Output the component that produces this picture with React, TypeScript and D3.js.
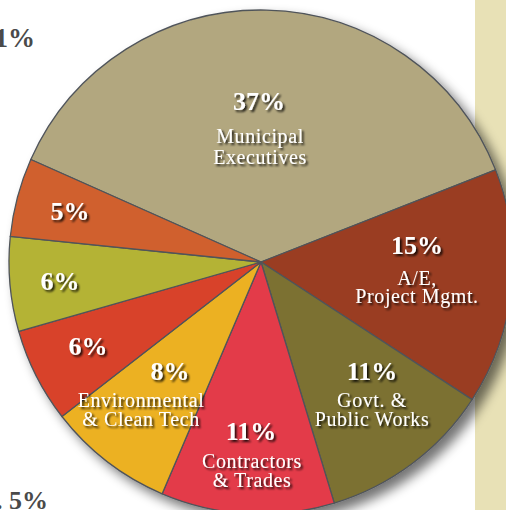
import React from "react";
import * as d3 from "d3";

const categories = [
  "Municipal Executives",
  "A/E, Project Mgmt.",
  "Govt. & Public Works",
  "Contractors & Trades",
  "Environmental & Clean Tech",
  "Other A",
  "Other B",
  "Other C",
];
const values = [37, 15, 11, 11, 8, 6, 6, 5];
const percentLabels = ["37%", "15%", "11%", "11%", "8%", "6%", "6%", "5%"];
const nameLines: string[][] = [
  ["Municipal", "Executives"],
  ["A/E,", "Project Mgmt."],
  ["Govt. &", "Public Works"],
  ["Contractors", "& Trades"],
  ["Environmental", "& Clean Tech"],
  [],
  [],
  [],
];
const colors = ["#B2A77F", "#9A3C21", "#7B7133", "#E33A48", "#ECB124", "#D8432A", "#B4B334", "#D0612D"];
// percent label anchor (center x, baseline y) relative to pie center
const pctPos: [number, number][] = [
  [-2, -152],
  [156, -8],
  [111, 118],
  [-10, 178],
  [-91, 118],
  [-173, 93],
  [-201, 28],
  [-191, -42],
];
// name block anchor (center x, first baseline y) relative to pie center
const namePos: [number, number][] = [
  [-1, -119],
  [156, 23],
  [111, 145],
  [-9, 206],
  [-120, 145],
  [0, 0],
  [0, 0],
  [0, 0],
];
const lineGaps = [21, 18, 19, 19, 19, 0, 0, 0];

export default function App() {
  const W = 506, H = 510;
  const cx = 261, cy = 262, r = 252;
  const pie = d3.pie<number>().sort(null).startAngle(-66 * Math.PI / 180).endAngle((360 - 66) * Math.PI / 180);
  const arcs = pie(values);
  const arc = d3.arc<d3.PieArcDatum<number>>().innerRadius(0).outerRadius(r);
  const font = "'Liberation Serif', 'Times New Roman', serif";
  return (
    <svg width={W} height={H} style={{ position: "absolute", left: 0, top: 0 }}>
      <defs>
        <filter id="pieShadow" x="-20%" y="-20%" width="140%" height="140%">
          <feGaussianBlur in="SourceAlpha" stdDeviation="6" />
          <feOffset dx="7" dy="7" result="b" />
          <feComponentTransfer>
            <feFuncA type="linear" slope="0.55" />
          </feComponentTransfer>
          <feMerge>
            <feMergeNode />
            <feMergeNode in="SourceGraphic" />
          </feMerge>
        </filter>
        <filter id="txtShadow" x="-20%" y="-40%" width="140%" height="180%">
          <feGaussianBlur in="SourceAlpha" stdDeviation="1" />
          <feOffset dx="1.8" dy="1.8" />
          <feComponentTransfer>
            <feFuncA type="linear" slope="0.85" />
          </feComponentTransfer>
          <feMerge>
            <feMergeNode />
            <feMergeNode in="SourceGraphic" />
          </feMerge>
        </filter>
      </defs>
      <rect x={0} y={0} width={W} height={H} fill="#fff" />
      <rect x={475} y={0} width={W - 475} height={H} fill="#E8E1B6" />
      <text x={35} y={47} textAnchor="end" fontFamily={font} fontWeight="bold" fontSize={27} fill="#4a4a4a">1%</text>
      <text x={48} y={509} textAnchor="end" fontFamily={font} fontWeight="bold" fontSize={26} fill="#4a4a4a">. 5%</text>
      <g transform={`translate(${cx},${cy})`}>
        <g filter="url(#pieShadow)">
          {arcs.map((a, i) => (
            <path key={categories[i]} d={arc(a) || ""} fill={colors[i]} stroke="#50545a" strokeWidth={1.3} strokeLinejoin="round" />
          ))}
        </g>
        <g filter="url(#txtShadow)" fill="#fff" fontFamily={font} textAnchor="middle">
          {arcs.map((a, i) => {
            const [px, py] = pctPos[i];
            const [nx, ny] = namePos[i];
            return (
              <g key={"l" + i}>
                <text x={px} y={py} fontSize={26} fontWeight="bold">{percentLabels[i]}</text>
                {nameLines[i].map((t, j) => (
                  <text key={j} x={nx} y={ny + j * lineGaps[i]} fontSize={20} letterSpacing={0.6}>{t}</text>
                ))}
              </g>
            );
          })}
        </g>
      </g>
    </svg>
  );
}
